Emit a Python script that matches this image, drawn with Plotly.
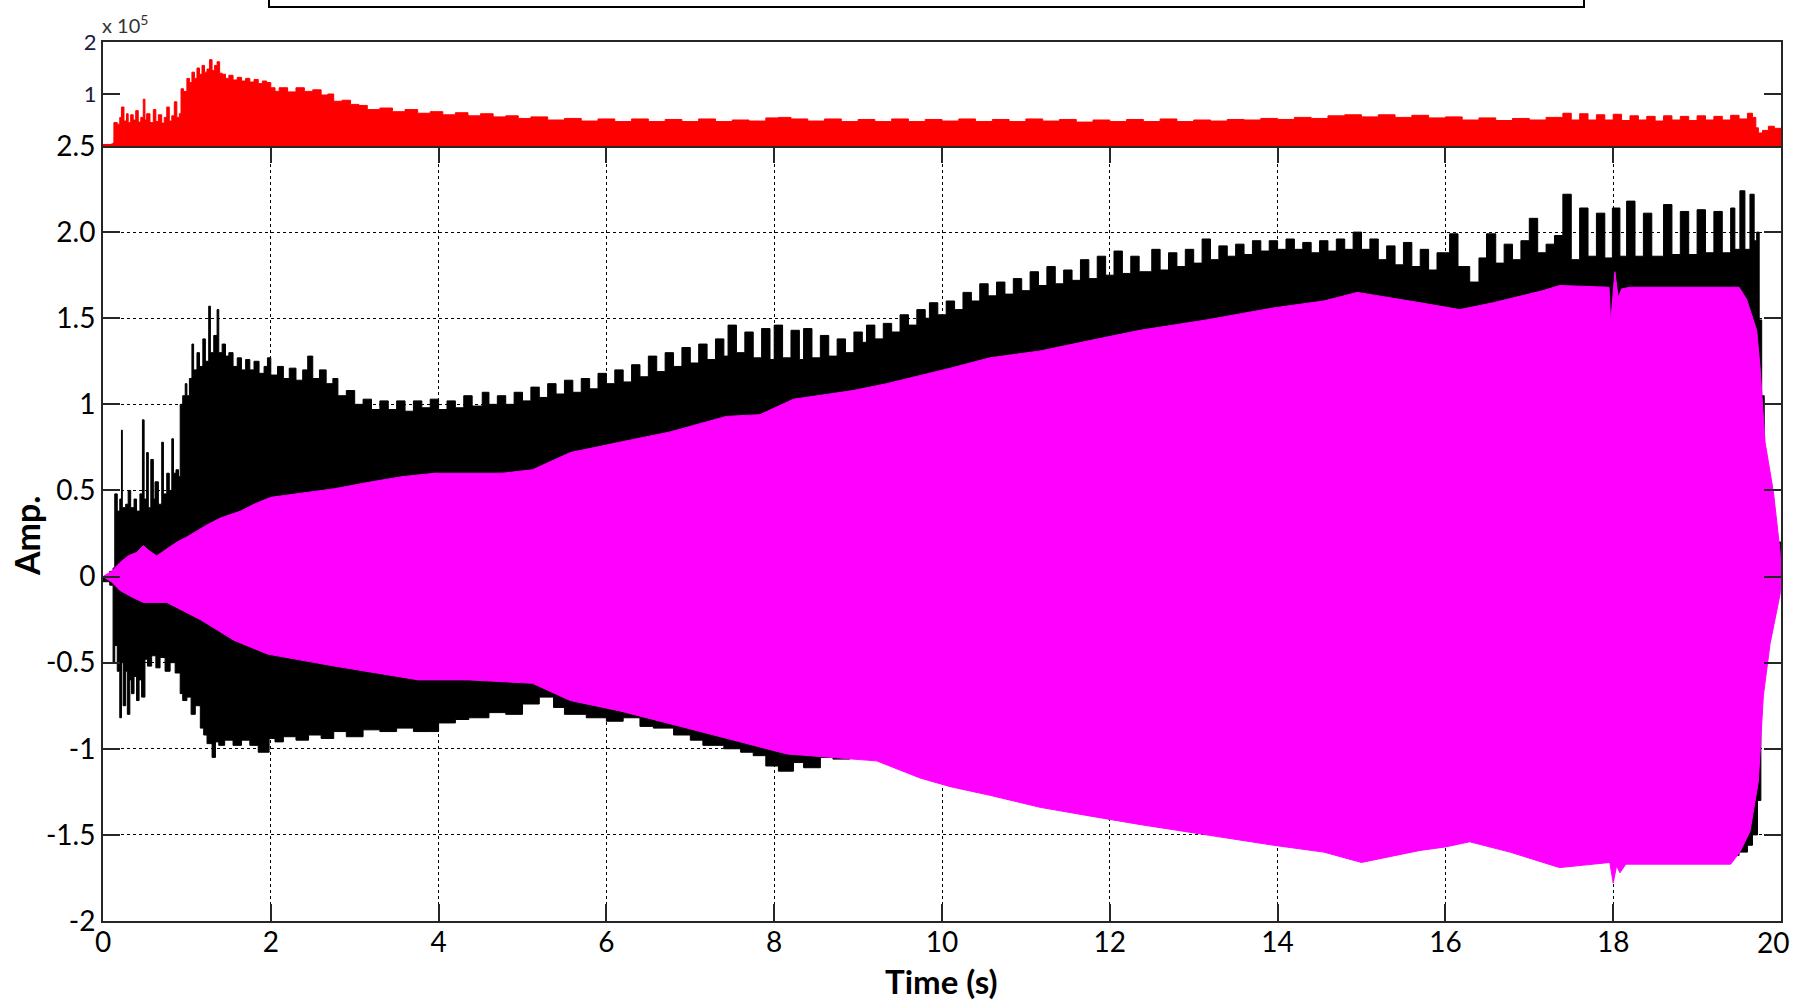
import plotly.graph_objects as go

# ---------------- data ----------------
time_ticks = [0, 2, 4, 6, 8, 10, 12, 14, 16, 18, 20]
amp_ticks = [-2, -1.5, -1, -0.5, 0, 0.5, 1, 1.5, 2, 2.5]
amp_tick_text = ["-2", "-1.5", "-1", "-0.5", "0", "0.5", "1", "1.5", "2.0", "2.5"]
top_ticks = [1, 2]
top_tick_text = ["1", "2"]

# black signal envelope: upper (t, amp)
black_upper = [(0,0),(0.08,0.03),(0.12,0.05),(0.14,0.48),(0.17,0.38),(0.2,0.45),(0.22,0.85),(0.23,0.4),
 (0.27,0.42),(0.3,0.5),(0.33,0.4),(0.37,0.45),(0.4,0.38),(0.44,0.48),(0.47,0.91),(0.49,0.45),(0.52,0.72),
 (0.54,0.4),(0.57,0.68),(0.6,0.45),(0.62,0.55),(0.66,0.42),(0.7,0.78),(0.72,0.48),(0.76,0.6),(0.79,0.5),
 (0.82,0.8),(0.84,0.6),(0.87,0.62),(0.9,0.58),(0.92,1.0),(0.95,1.05),(0.98,1.12),(1.0,1.05),(1.03,1.15),
 (1.06,1.35),(1.08,1.2),(1.12,1.3),(1.15,1.22),(1.19,1.38),(1.22,1.25),(1.26,1.57),(1.28,1.3),(1.32,1.4),
 (1.36,1.55),(1.38,1.3),(1.42,1.35),(1.46,1.28),(1.5,1.3),(1.55,1.22),(1.6,1.27),(1.65,1.2),(1.7,1.26),
 (1.75,1.2),(1.8,1.25),(1.86,1.18),(1.92,1.22),(1.96,1.27),(2.0,1.17),(2.08,1.22),(2.15,1.15),(2.22,1.21),
 (2.3,1.14),(2.38,1.2),(2.44,1.28),(2.5,1.15),(2.58,1.2),(2.66,1.12),(2.74,1.15),(2.8,1.05),(2.9,1.08),
 (3.0,1.0),(3.1,1.03),(3.2,0.97),(3.3,1.02),(3.4,0.97),(3.5,1.02),(3.6,0.96),(3.7,1.02),(3.8,0.98),
 (3.9,1.03),(4.0,0.97),(4.1,1.02),(4.2,0.98),(4.3,1.05),(4.4,0.99),(4.52,1.07),(4.6,1.0),(4.7,1.05),
 (4.8,1.0),(4.9,1.07),(5.0,1.02),(5.1,1.1),(5.2,1.04),(5.3,1.12),(5.4,1.06),(5.5,1.14),(5.6,1.07),
 (5.7,1.15),(5.8,1.09),(5.9,1.18),(6.0,1.12),(6.1,1.2),(6.2,1.13),(6.3,1.23),(6.4,1.16),(6.5,1.28),
 (6.6,1.19),(6.7,1.3),(6.8,1.22),(6.9,1.33),(7.0,1.24),(7.1,1.35),(7.2,1.26),(7.3,1.38),(7.4,1.28),
 (7.45,1.46),(7.55,1.3),(7.65,1.42),(7.75,1.27),(7.85,1.44),(7.95,1.26),(8.0,1.46),(8.1,1.27),(8.2,1.43),
 (8.3,1.26),(8.35,1.44),(8.45,1.27),(8.55,1.4),(8.65,1.28),(8.75,1.38),(8.85,1.3),(8.95,1.42),(9.05,1.36),
 (9.1,1.46),(9.2,1.38),(9.3,1.47),(9.4,1.42),(9.5,1.52),(9.6,1.46),(9.7,1.55),(9.8,1.5),(9.85,1.59),
 (9.95,1.52),(10.05,1.6),(10.15,1.55),(10.25,1.65),(10.35,1.6),(10.45,1.7),(10.55,1.63),(10.65,1.71),
 (10.75,1.64),(10.85,1.73),(10.95,1.66),(11.05,1.77),(11.15,1.69),(11.25,1.8),(11.35,1.7),(11.45,1.78),
 (11.55,1.72),(11.65,1.84),(11.75,1.73),(11.85,1.86),(11.95,1.75),(12.05,1.89),(12.15,1.76),(12.25,1.86),
 (12.35,1.77),(12.5,1.9),(12.6,1.78),(12.7,1.88),(12.8,1.8),(12.9,1.9),(13.0,1.82),(13.1,1.96),(13.2,1.84),
 (13.3,1.92),(13.4,1.86),(13.5,1.93),(13.6,1.87),(13.7,1.95),(13.8,1.89),(13.9,1.95),(14.0,1.9),(14.1,1.96),
 (14.2,1.9),(14.3,1.94),(14.4,1.88),(14.5,1.95),(14.6,1.89),(14.7,1.96),(14.8,1.9),(14.9,2.0),(15.0,1.9),
 (15.1,1.96),(15.2,1.84),(15.3,1.92),(15.4,1.81),(15.5,1.94),(15.6,1.8),(15.7,1.9),(15.8,1.78),(15.9,1.88),
 (16.05,1.99),(16.15,1.8),(16.29,1.71),(16.4,1.85),(16.49,1.99),(16.6,1.82),(16.7,1.93),(16.8,1.84),
 (16.9,1.95),(17.0,2.08),(17.1,1.88),(17.2,1.93),(17.3,1.98),(17.4,2.22),(17.5,1.84),(17.6,2.14),(17.7,1.86),
 (17.8,2.11),(17.9,1.85),(17.99,2.14),(18.08,1.86),(18.16,2.18),(18.26,1.86),(18.36,2.11),(18.46,1.86),
 (18.6,2.16),(18.7,1.87),(18.8,2.12),(18.9,1.87),(19.0,2.13),(19.1,1.88),(19.2,2.12),(19.3,1.88),(19.4,2.14),
 (19.45,1.9),(19.51,2.24),(19.57,1.9),(19.63,2.22),(19.68,1.95),(19.71,2.0),(19.74,1.49),(19.77,1.05),
 (19.8,0.5),(19.9,0.2),(20.0,0.0)]

# black signal envelope: lower (t, amp)
black_lower = [(0,0),(0.08,-0.03),(0.12,-0.05),(0.14,-0.5),(0.17,-0.4),(0.2,-0.55),(0.22,-0.82),(0.24,-0.5),
 (0.27,-0.75),(0.29,-0.55),(0.32,-0.8),(0.34,-0.6),(0.37,-0.68),(0.4,-0.58),(0.43,-0.72),(0.46,-0.6),
 (0.5,-0.7),(0.53,-0.48),(0.58,-0.52),(0.63,-0.46),(0.68,-0.53),(0.74,-0.47),(0.8,-0.55),(0.86,-0.5),
 (0.92,-0.56),(0.95,-0.68),(1.0,-0.72),(1.05,-0.7),(1.1,-0.8),(1.16,-0.75),(1.2,-0.88),(1.24,-0.92),
 (1.3,-0.97),(1.34,-1.05),(1.38,-0.96),(1.45,-0.98),(1.55,-0.95),(1.65,-0.98),(1.75,-0.95),(1.85,-0.98),
 (1.98,-1.02),(2.05,-0.94),(2.15,-0.96),(2.3,-0.93),(2.45,-0.95),(2.6,-0.92),(2.75,-0.94),(2.9,-0.9),
 (3.1,-0.93),(3.3,-0.89),(3.5,-0.9),(3.7,-0.88),(3.9,-0.9),(4.0,-0.9),(4.2,-0.85),(4.36,-0.83),(4.6,-0.82),
 (4.8,-0.79),(5.0,-0.8),(5.2,-0.74),(5.37,-0.7),(5.5,-0.76),(5.76,-0.8),(6.0,-0.82),(6.2,-0.84),(6.4,-0.82),
 (6.56,-0.87),(6.8,-0.88),(7.0,-0.92),(7.15,-0.95),(7.4,-0.98),(7.6,-1.0),(7.75,-1.02),(7.9,-1.04),
 (8.05,-1.1),(8.23,-1.13),(8.35,-1.08),(8.55,-1.11),(8.7,-1.05),(8.9,-1.06),(9.5,-1.05),(10.0,-1.1),
 (12.0,-1.2),(14.0,-1.3),(15.0,-1.35),(17.0,-1.4),(19.0,-1.45),(19.5,-1.62),
 (19.6,-1.6),(19.66,-1.56),(19.72,-1.5),(19.76,-1.3),(19.78,-0.6),(19.85,-0.3),(19.95,-0.1),(20.0,0.0)]

# magenta signal envelope: upper (t, amp)
magenta_upper = [(0,0),(0.1,0.03),(0.2,0.08),(0.3,0.12),(0.4,0.14),(0.48,0.18),(0.55,0.15),(0.64,0.12),
 (0.7,0.14),(0.88,0.2),(1.0,0.23),(1.24,0.3),(1.4,0.34),(1.64,0.38),(1.8,0.42),(2.0,0.46),(2.3,0.48),
 (2.76,0.51),(3.2,0.55),(3.56,0.58),(3.96,0.6),(4.36,0.6),(4.76,0.6),(5.12,0.62),(5.57,0.72),(6.16,0.78),
 (6.76,0.84),(7.43,0.93),(7.83,0.94),(8.23,1.03),(8.94,1.08),(9.34,1.12),(9.94,1.19),(10.1,1.21),
 (10.57,1.27),(11.17,1.31),(11.76,1.37),(12.36,1.43),(13.15,1.49),(13.95,1.56),(14.55,1.6),(14.95,1.65),
 (15.7,1.59),(16.17,1.55),(16.57,1.59),(17.16,1.66),(17.36,1.69),(17.95,1.68),(17.97,1.47),(17.99,1.6),
 (18.02,1.77),(18.06,1.62),(18.1,1.67),(18.2,1.68),(19.5,1.68),(19.59,1.61),(19.71,1.43),(19.75,1.22),
 (19.81,0.78),(19.91,0.49),(19.99,0.14),(20.0,0)]

# magenta signal envelope: lower (t, amp)
magenta_lower = [(0,0),(0.1,-0.03),(0.2,-0.08),(0.35,-0.12),(0.48,-0.15),(0.76,-0.15),(1.16,-0.25),
 (1.56,-0.37),(1.96,-0.45),(2.76,-0.52),(3.76,-0.6),(4.36,-0.6),(5.12,-0.62),(5.57,-0.72),(6.16,-0.78),
 (6.96,-0.88),(8.15,-1.03),(8.94,-1.06),(9.22,-1.07),(9.74,-1.17),(10.1,-1.22),(10.57,-1.27),(11.17,-1.34),
 (11.76,-1.39),(12.36,-1.44),(13.15,-1.5),(13.95,-1.56),(14.55,-1.6),(15.0,-1.66),(15.7,-1.59),(16.0,-1.57),
 (16.29,-1.54),(16.77,-1.6),(17.36,-1.69),(17.96,-1.66),(18.0,-1.78),(18.04,-1.68),(18.08,-1.72),
 (18.15,-1.67),(19.4,-1.67),(19.51,-1.6),(19.63,-1.48),(19.73,-1.19),(19.79,-0.69),(19.87,-0.39),
 (19.99,-0.1),(20.0,0)]

# red envelope (top panel, x 10^5)
red_env = [(0,0.03),(0.1,0.04),(0.12,0.06),(0.13,0.45),(0.17,0.42),(0.2,0.55),(0.22,0.75),(0.25,0.48),
 (0.28,0.62),(0.3,0.45),(0.33,0.6),(0.36,0.5),(0.39,0.68),(0.42,0.46),(0.45,0.55),(0.48,0.9),(0.5,0.5),
 (0.52,0.62),(0.56,0.45),(0.6,0.7),(0.63,0.47),(0.66,0.6),(0.7,0.44),(0.73,0.55),(0.76,0.75),(0.79,0.48),
 (0.82,0.58),(0.85,0.85),(0.88,0.55),(0.91,0.62),(0.93,1.1),(0.96,1.05),(1.0,1.3),(1.03,1.22),(1.06,1.42),
 (1.09,1.3),(1.12,1.5),(1.15,1.38),(1.18,1.55),(1.21,1.42),(1.24,1.48),(1.27,1.66),(1.3,1.45),(1.33,1.55),
 (1.36,1.62),(1.39,1.4),(1.42,1.38),(1.46,1.3),(1.5,1.36),(1.55,1.27),(1.6,1.32),(1.65,1.25),(1.7,1.3),
 (1.75,1.23),(1.8,1.28),(1.85,1.2),(1.9,1.25),(1.95,1.22),(2.0,1.12),(2.05,1.05),(2.1,1.12),(2.2,1.04),
 (2.3,1.12),(2.4,1.05),(2.5,1.08),(2.6,0.98),(2.68,1.0),(2.75,0.86),(2.85,0.88),(2.95,0.8),(3.05,0.78),
 (3.15,0.7),(3.3,0.73),(3.45,0.66),(3.6,0.7),(3.75,0.63),(3.9,0.66),(4.05,0.6),(4.2,0.64),(4.35,0.58),
 (4.5,0.62),(4.65,0.56),(4.8,0.58),(4.95,0.53),(5.1,0.56),(5.3,0.5),(5.5,0.53),(5.7,0.48),(5.9,0.52),
 (6.1,0.47),(6.3,0.52),(6.5,0.47),(6.7,0.51),(6.9,0.47),(7.1,0.52),(7.3,0.47),(7.5,0.5),(7.7,0.48),
 (7.9,0.54),(8.05,0.55),(8.2,0.52),(8.4,0.48),(8.6,0.52),(8.8,0.47),(9.0,0.51),(9.2,0.47),(9.4,0.52),
 (9.6,0.47),(9.8,0.51),(10.0,0.48),(10.2,0.52),(10.4,0.47),(10.6,0.51),(10.8,0.47),(11.0,0.52),(11.2,0.48),
 (11.4,0.51),(11.6,0.46),(11.8,0.5),(12.0,0.47),(12.2,0.51),(12.4,0.47),(12.6,0.52),(12.8,0.47),(13.0,0.5),
 (13.2,0.48),(13.4,0.51),(13.6,0.5),(13.8,0.53),(14.0,0.51),(14.2,0.55),(14.4,0.53),(14.6,0.58),(14.8,0.6),
 (15.0,0.56),(15.2,0.6),(15.4,0.55),(15.6,0.59),(15.8,0.54),(16.0,0.56),(16.2,0.5),(16.4,0.54),(16.6,0.49),
 (16.8,0.53),(17.0,0.5),(17.2,0.55),(17.4,0.63),(17.5,0.5),(17.6,0.62),(17.7,0.5),(17.8,0.6),(17.9,0.5),
 (18.0,0.61),(18.1,0.49),(18.2,0.58),(18.3,0.5),(18.4,0.57),(18.5,0.48),(18.6,0.58),(18.7,0.5),(18.8,0.57),
 (18.9,0.49),(19.0,0.58),(19.1,0.5),(19.2,0.57),(19.3,0.5),(19.4,0.59),(19.5,0.52),(19.6,0.63),(19.66,0.55),
 (19.7,0.35),(19.73,0.25),(19.78,0.3),(19.85,0.38),(19.92,0.34),(20.0,0.18)]


def band(upper, lower):
    xs = [p[0] for p in upper] + [p[0] for p in reversed(lower)]
    ys = [p[1] for p in upper] + [p[1] for p in reversed(lower)]
    return xs, ys


FONT = "Lato"
AX = "#262626"

fig = go.Figure()

bx, by = band(black_upper, black_lower)
fig.add_trace(go.Scatter(x=bx, y=by, mode="lines", fill="toself", fillcolor="#000000",
                         line=dict(color="#000000", width=1, shape="hv"), hoverinfo="skip", showlegend=False))
mx, my = band(magenta_upper, magenta_lower)
fig.add_trace(go.Scatter(x=mx, y=my, mode="lines", fill="toself", fillcolor="#FF00FF",
                         line=dict(color="#FF00FF", width=1), hoverinfo="skip", showlegend=False))
fig.add_trace(go.Scatter(x=[p[0] for p in red_env], y=[p[1] for p in red_env], mode="lines",
                         fill="tozeroy", fillcolor="#FF0000", line=dict(color="#FF0000", width=1, shape="hv"),
                         xaxis="x2", yaxis="y2", hoverinfo="skip", showlegend=False))

# geometry (page pixels)
W, H = 1793, 1003
L, R, T, B = 103, 1793 - 1781, 42, 1003 - 921
plot_h = H - T - B
plot_w = W - L - R
split = (921 - 146) / plot_h


def px_x(X):
    return (X - L) / plot_w


def px_y(Y):
    return (H - B - Y) / plot_h


axis_common = dict(ticks="inside", ticklen=17, tickwidth=2, tickcolor=AX, showline=True, linecolor=AX,
                   linewidth=2, mirror="ticks", zeroline=False, automargin=False)

# last x label is drawn as an annotation pulled slightly inside the figure (as in the original)
x_tick_text = [str(v) for v in time_ticks[:-1]] + [""]

fig.update_layout(
    width=W, height=H,
    margin=dict(l=L, r=R, t=T, b=B),
    paper_bgcolor="white", plot_bgcolor="white",
    font=dict(family=FONT, color="black", size=28),
    xaxis=dict(domain=[0, 1], range=[0, 20], tickvals=time_ticks, ticktext=x_tick_text,
               showgrid=True, gridcolor="black", griddash="3px,3px", gridwidth=1,
               tickfont=dict(size=28, family=FONT, color="black"), ticklabeloverflow="allow",
               ticklabelstandoff=-5, anchor="y", **axis_common),
    yaxis=dict(domain=[0, split], range=[-2, 2.5], tickvals=amp_ticks, ticktext=amp_tick_text,
               showgrid=True, gridcolor="black", griddash="3px,3px", gridwidth=1,
               tickfont=dict(size=28, family=FONT, color="black"), ticklabeloverflow="allow",
               anchor="x", **axis_common),
    xaxis2=dict(domain=[0, 1], range=[0, 20], showticklabels=False, ticks="", showline=True,
                linecolor=AX, linewidth=2, mirror=True, showgrid=False, zeroline=False,
                automargin=False, anchor="y2"),
    yaxis2=dict(domain=[split, 1], range=[0, 2], tickvals=top_ticks, ticktext=top_tick_text,
                showgrid=False, tickfont=dict(size=22, family=FONT, color="#1a1a40"),
                anchor="x2", **axis_common),
    shapes=[dict(type="rect", xref="paper", yref="paper",
                 x0=px_x(269), x1=px_x(1584), y0=px_y(7), y1=1.3, line=dict(color="black", width=2))],
    annotations=[
        dict(text=str(time_ticks[-1]), xref="paper", yref="paper", x=px_x(1773), y=px_y(942),
             xanchor="center", yanchor="middle", showarrow=False,
             font=dict(size=28, family=FONT, color="black")),
        dict(text="x 10<sup>5</sup>", xref="paper", yref="paper", x=px_x(100), y=px_y(24),
             xanchor="left", yanchor="middle", showarrow=False, font=dict(size=20, family=FONT, color="#333")),
        dict(text="<b>Amp.</b>", xref="paper", yref="paper", x=px_x(26), y=px_y(536),
             xanchor="center", yanchor="middle", textangle=-90, showarrow=False,
             font=dict(size=34, family=FONT, color="black")),
        dict(text="<b>Time (s)</b>", xref="paper", yref="paper", x=px_x(941), y=px_y(981),
             xanchor="center", yanchor="middle", showarrow=False,
             font=dict(size=33, family=FONT, color="black")),
    ],
)

fig.write_html("out.html", config={"displayModeBar": False},
               post_script="document.body.style.margin='0';")
